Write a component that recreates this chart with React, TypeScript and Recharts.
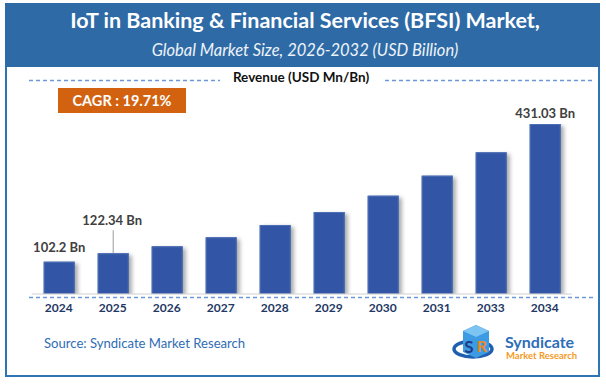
import React from 'react';
import { BarChart, Bar, XAxis, YAxis, LabelList } from 'recharts';

const years = ['2024', '2025', '2026', '2027', '2028', '2029', '2030', '2031', '2033', '2034'];
const revenue = [102.2, 122.34, 139.0, 160.5, 189.9, 220.9, 259.8, 307.6, 363.4, 431.03];
const valueLabels = ['102.2 Bn', '122.34 Bn', '', '', '', '', '', '', '', '431.03 Bn'];

const TITLE = 'IoT in Banking & Financial Services (BFSI) Market,';
const SUBTITLE = 'Global Market Size, 2026-2032 (USD Billion)';
const AXIS_TITLE = 'Revenue (USD Mn/Bn)';
const CAGR = 'CAGR : 19.71%';
const SOURCE = 'Source: Syndicate Market Research';

const data = years.map((y, i) => ({ year: y, value: revenue[i], label: valueLabels[i] }));

const FONT = 'Lato, "Open Sans", sans-serif';

const BarShape = (props: any) => {
  const { x, y, width, height } = props;
  if (!height || height <= 0) return null;
  return (
    <g>
      <rect x={x} y={y} width={width} height={height} fill="#3256A5"
        style={{ filter: 'drop-shadow(3px 2px 2px rgba(0,0,0,0.35))' }} />
      <rect x={x + 0.5} y={y + 0.5} width={width - 1} height={height - 1} fill="none" stroke="#4E6FB5" strokeWidth={1} />
    </g>
  );
};

const ValueLabel = (props: any) => {
  const { x, y, width, value, index } = props;
  if (!value) return null;
  const cx = x + width / 2;
  if (index === 1) {
    return (
      <g>
        <line x1={cx} x2={cx} y1={y - 23} y2={y} stroke="#9a9a9a" strokeWidth={1} />
        <text x={cx - 1} y={y - 33} textAnchor="middle" dominantBaseline="central"
          fontFamily={FONT} fontSize={13} fontWeight={700} fill="#404040">{value}</text>
      </g>
    );
  }
  const off = index === 0 ? 14.5 : 11.5;
  return (
    <text x={cx} y={y - off} textAnchor="middle" dominantBaseline="central"
      fontFamily={FONT} fontSize={13} fontWeight={700} fill="#404040">{value}</text>
  );
};

export default function App() {
  return (
    <div style={{ position: 'absolute', left: 0, top: 0, width: 606, height: 384, background: '#fff', overflow: 'hidden', fontFamily: FONT }}>
      {/* frame */}
      <div style={{ position: 'absolute', left: 5, top: 3, width: 595, height: 374, border: '2px solid #2E75B6', boxSizing: 'border-box' }} />
      {/* title band */}
      <div style={{ position: 'absolute', left: 5, top: 3, width: 595, height: 64, background: '#2E6BA6' }} />
      <div style={{ position: 'absolute', left: 5, top: 7, width: 600, textAlign: 'center', color: '#fff', fontWeight: 700, fontSize: 21.5, lineHeight: '26px', whiteSpace: 'nowrap' }}>{TITLE}</div>
      <div style={{ position: 'absolute', left: 5, top: 40, width: 600, textAlign: 'center', color: '#EEF3F9', fontStyle: 'italic', fontSize: 16.5, lineHeight: '21px', whiteSpace: 'nowrap' }}>{SUBTITLE}</div>

      {/* decorative dashed lines */}
      <svg width={606} height={384} style={{ position: 'absolute', left: 0, top: 0 }}>
        <line x1={29} x2={220} y1={80.5} y2={80.5} stroke="#6C98D6" strokeWidth={1.3} strokeDasharray="4 3" />
        <line x1={385} x2={594} y1={80.5} y2={80.5} stroke="#6C98D6" strokeWidth={1.3} strokeDasharray="4 3" />
        <line x1={29} x2={594} y1={297.5} y2={297.5} stroke="#6C98D6" strokeWidth={1.3} strokeDasharray="4 3" />
      </svg>
      <div style={{ position: 'absolute', left: 0, top: 68, width: 602, textAlign: 'center', color: '#111', fontWeight: 700, fontSize: 13.5, lineHeight: '18px', whiteSpace: 'nowrap' }}>{AXIS_TITLE}</div>

      {/* CAGR box */}
      <div style={{ position: 'absolute', left: 58, top: 88, width: 128, height: 25, background: '#D2620F', color: '#fff', fontWeight: 700, fontSize: 14.5, lineHeight: '25px', textAlign: 'center', whiteSpace: 'nowrap' }}>{CAGR}</div>

      {/* chart */}
      <div style={{ position: 'absolute', left: 0, top: 0 }}>
        <BarChart width={606} height={384} data={data} margin={{ top: 124, right: 34.3, bottom: 60, left: 31.7 }} barCategoryGap={0}>
          <XAxis dataKey="year" height={30} tickLine={false} tickSize={6} tickMargin={3.5} interval={0}
            axisLine={{ stroke: '#D0D0D0', strokeWidth: 1 }}
            tick={{ fill: '#1F3864', fontSize: 12, fontWeight: 700, fontFamily: FONT }} />
          <YAxis hide domain={[25.1, 431.03]} allowDataOverflow type="number" />
          <Bar dataKey="value" barSize={31} isAnimationActive={false} shape={<BarShape />}>
            <LabelList dataKey="label" content={<ValueLabel />} />
          </Bar>
        </BarChart>
      </div>

      {/* source */}
      <div style={{ position: 'absolute', left: 44, top: 335, color: '#2F6CB5', fontSize: 13.1, lineHeight: '17px', whiteSpace: 'nowrap' }}>{SOURCE}</div>

      {/* logo */}
      <svg width={50} height={40} style={{ position: 'absolute', left: 452, top: 322 }}>
        <ellipse cx={21} cy={27} rx={19} ry={8} fill="none" stroke="#1F5FB0" strokeWidth={3.5} />
        <polygon points="11,9 24,3 37,9 37,30 24,36 11,30" fill="#3D9BE3" />
        <polygon points="11,9 24,3 37,9 24,15" fill="#7CC4F2" />
        <text x={17} y={31} fontFamily={FONT} fontWeight={700} fontSize={17} fill="#1F3C88" textAnchor="middle">S</text>
        <text x={30} y={30} fontFamily={FONT} fontWeight={700} fontSize={16} fill="#F08A1C" textAnchor="middle">R</text>
      </svg>
      <div style={{ position: 'absolute', left: 505, top: 333, color: '#2E6DB8', fontWeight: 700, fontSize: 16, lineHeight: '18px', whiteSpace: 'nowrap' }}>Syndicate</div>
      <div style={{ position: 'absolute', left: 506, top: 350, color: '#F39A1F', fontWeight: 700, fontSize: 9.5, lineHeight: '11px', whiteSpace: 'nowrap' }}>Market Research</div>
    </div>
  );
}
